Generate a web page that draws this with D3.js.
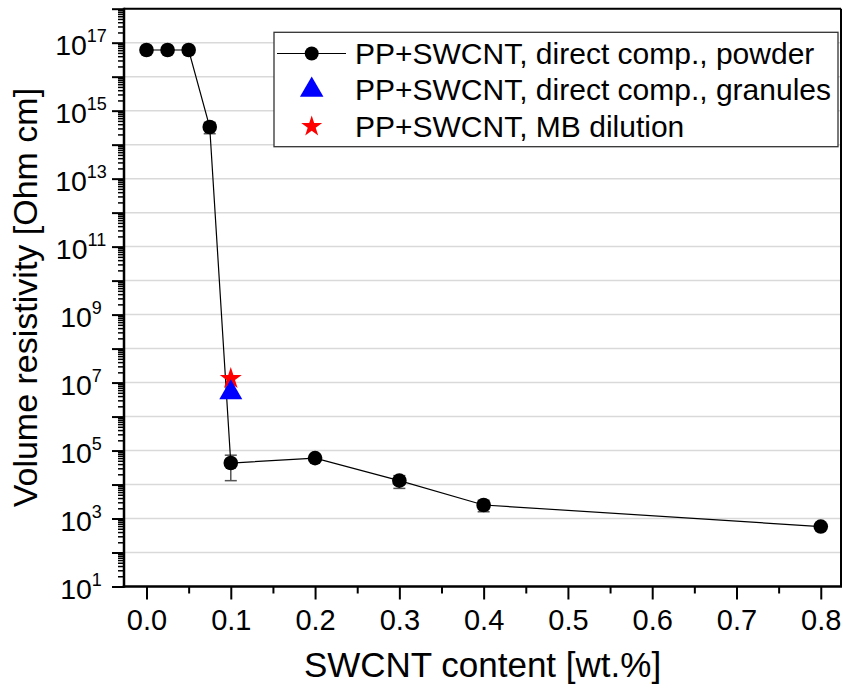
<!DOCTYPE html>
<html><head><meta charset="utf-8">
<script src="https://cdn.jsdelivr.net/npm/d3@7"></script>
<style>
body{margin:0;background:#fff;}
svg{display:block;}
text{font-family:"Liberation Sans",Arial,sans-serif;fill:#000;}
</style>
</head><body>
<svg id="c" width="843" height="691"></svg>
<script>
// ---- data ----
const powderX = [0, 0.025, 0.05, 0.075, 0.1, 0.2, 0.3, 0.4, 0.8];
const powderY = [6.1e16, 6.1e16, 6.1e16, 3.3e14, 4.3e4, 6.0e4, 1.3e4, 2.5e3, 5.8e2];
const powderErr = [0, 0, 0, 1.2e14, 3.0e4, 0, 5.3e3, 9.2e2, 0];
const granulesX = [0.1];
const granulesY = [5.1e6];
const mbX = [0.1];
const mbY = [1.3e7];
const xTicks = [0, 0.1, 0.2, 0.3, 0.4, 0.5, 0.6, 0.7, 0.8];
const xMinorTicks = [0.05, 0.15, 0.25, 0.35, 0.45, 0.55, 0.65, 0.75];
const yExponents = [1,2,3,4,5,6,7,8,9,10,11,12,13,14,15,16,17,18];
const yLabelExponents = [1,3,5,7,9,11,13,15,17];
const legendLabels = ["PP+SWCNT, direct comp., powder", "PP+SWCNT, direct comp., granules", "PP+SWCNT, MB dilution"];
const xTitle = "SWCNT content [wt.%]";
const yTitle = "Volume resistivity [Ohm cm]";

// ---- layout ----
const L = 124, R = 841, T = 8.7, B = 586.5;
const svg = d3.select("#c");
const x = d3.scaleLinear().domain([-0.0267, 0.824]).range([L, R]);
const y = d3.scaleLog().domain([10, 1e18]).range([B, T]);

// gridlines
svg.append("g").selectAll("line").data(yExponents.map(e => Math.pow(10, e))).join("line")
  .attr("x1", L).attr("x2", R).attr("y1", d => y(d)).attr("y2", d => y(d))
  .attr("stroke", "#d9d9d9").attr("stroke-width", 1.5);

// minor y ticks
const yMinor = [];
yExponents.slice(0, -1).forEach(e => { for (let m = 2; m <= 9; m++) yMinor.push(m * Math.pow(10, e)); });

const gyMinor = svg.append("g").attr("transform", `translate(${L},0)`)
  .call(d3.axisLeft(y).tickValues(yMinor).tickSize(6).tickFormat("").tickSizeOuter(0));
const gyMajor = svg.append("g").attr("transform", `translate(${L},0)`)
  .call(d3.axisLeft(y).tickValues(yExponents.map(e => Math.pow(10, e))).tickSize(12).tickFormat("").tickSizeOuter(0));
[gyMinor, gyMajor].forEach(g => { g.select(".domain").remove(); });
gyMinor.selectAll(".tick line").attr("stroke", "#000").attr("stroke-width", 1.5);
gyMajor.selectAll(".tick line").attr("stroke", "#000").attr("stroke-width", 2);

// y labels
const yl = svg.append("g").selectAll("text").data(yLabelExponents).join("text")
  .attr("x", 81).attr("y", d => y(Math.pow(10, d)) + 12)
  .attr("text-anchor", "middle").style("font-size", "28.5px");
yl.append("tspan").text("10");
yl.append("tspan").attr("dy", -13).style("font-size", "18px").text(d => d);

// x axis
const gxMinor = svg.append("g").attr("transform", `translate(0,${B})`)
  .call(d3.axisBottom(x).tickValues(xMinorTicks).tickSize(7).tickFormat("").tickSizeOuter(0));
const gxMajor = svg.append("g").attr("transform", `translate(0,${B})`)
  .call(d3.axisBottom(x).tickValues(xTicks).tickSize(13).tickFormat(d3.format(".1f")).tickSizeOuter(0));
[gxMinor, gxMajor].forEach(g => { g.select(".domain").remove(); });
gxMinor.selectAll(".tick line").attr("stroke", "#000").attr("stroke-width", 2);
gxMajor.selectAll(".tick line").attr("stroke", "#000").attr("stroke-width", 2);
gxMajor.selectAll(".tick text").attr("y", 43.5).attr("dy", 0)
  .attr("fill", "#000").style("font-size", "29px")
  .style("font-family", '"Liberation Sans",Arial,sans-serif');

// frame
svg.append("line").attr("x1", L).attr("x2", R).attr("y1", T).attr("y2", T).attr("stroke", "#000").attr("stroke-width", 2);
svg.append("line").attr("x1", R).attr("x2", R).attr("y1", T).attr("y2", B).attr("stroke", "#000").attr("stroke-width", 2);
svg.append("line").attr("x1", L).attr("x2", L).attr("y1", T - 1).attr("y2", B + 1.25).attr("stroke", "#000").attr("stroke-width", 2.5);
svg.append("line").attr("x1", L - 1.25).attr("x2", R + 1).attr("y1", B).attr("y2", B).attr("stroke", "#000").attr("stroke-width", 2.5);

// titles
svg.append("text").attr("x", (L + R) / 2).attr("y", 677).attr("text-anchor", "middle")
  .style("font-size", "35px").text(xTitle);
svg.append("text").attr("transform", `translate(37,${(T + B) / 2}) rotate(-90)`).attr("text-anchor", "middle")
  .style("font-size", "34px").text(yTitle);

// powder series
const pts = powderX.map((v, i) => ({ x: v, y: powderY[i], e: powderErr[i] }));
const eb = svg.append("g").attr("stroke", "#555").attr("stroke-width", 1.5);
pts.filter(d => d.e > 0).forEach(d => {
  const cx = x(d.x), y1 = y(d.y + d.e), y0 = y(d.y - d.e);
  eb.append("line").attr("x1", cx).attr("x2", cx).attr("y1", y1).attr("y2", y0);
  eb.append("line").attr("x1", cx - 6).attr("x2", cx + 6).attr("y1", y1).attr("y2", y1);
  eb.append("line").attr("x1", cx - 6).attr("x2", cx + 6).attr("y1", y0).attr("y2", y0);
});
svg.append("path").datum(pts)
  .attr("d", d3.line().x(d => x(d.x)).y(d => y(d.y)))
  .attr("fill", "none").attr("stroke", "#000").attr("stroke-width", 1.2);
svg.append("g").selectAll("circle").data(pts).join("circle")
  .attr("cx", d => x(d.x)).attr("cy", d => y(d.y)).attr("r", 7.3).attr("fill", "#000");

// MB star and granules triangle
svg.append("g").selectAll("path").data(mbX.map((v, i) => ({ x: v, y: mbY[i] }))).join("path")
  .attr("transform", d => `translate(${x(d.x)},${y(d.y)})`)
  .attr("d", d3.symbol(d3.symbolStar, 151)).attr("fill", "#ff0000");
svg.append("g").selectAll("path").data(granulesX.map((v, i) => ({ x: v, y: granulesY[i] }))).join("path")
  .attr("transform", d => `translate(${x(d.x)},${y(d.y)})`)
  .attr("d", d3.symbol(d3.symbolTriangle, 229)).attr("fill", "#0000ff");

// legend
const lg = svg.append("g");
lg.append("rect").attr("x", 274).attr("y", 32.3).attr("width", 564).attr("height", 114.4)
  .attr("fill", "#fff").attr("stroke", "#333").attr("stroke-width", 1.3);
const rowY = [53.5, 90, 126.5];
lg.append("line").attr("x1", 277).attr("x2", 346).attr("y1", rowY[0]).attr("y2", rowY[0]).attr("stroke", "#000").attr("stroke-width", 1.2);
lg.append("circle").attr("cx", 311.7).attr("cy", rowY[0]).attr("r", 7).attr("fill", "#000");
lg.append("path").attr("transform", `translate(311.7,${rowY[1]})`).attr("d", d3.symbol(d3.symbolTriangle, 240)).attr("fill", "#0000ff");
lg.append("path").attr("transform", `translate(311.7,${rowY[2]})`).attr("d", d3.symbol(d3.symbolStar, 137)).attr("fill", "#ff0000");
lg.selectAll("text.lt").data(legendLabels).join("text").attr("class", "lt")
  .attr("x", 355).attr("y", (d, i) => rowY[i] + 10.2).style("font-size", "30px").text(d => d);
</script>
</body></html>
